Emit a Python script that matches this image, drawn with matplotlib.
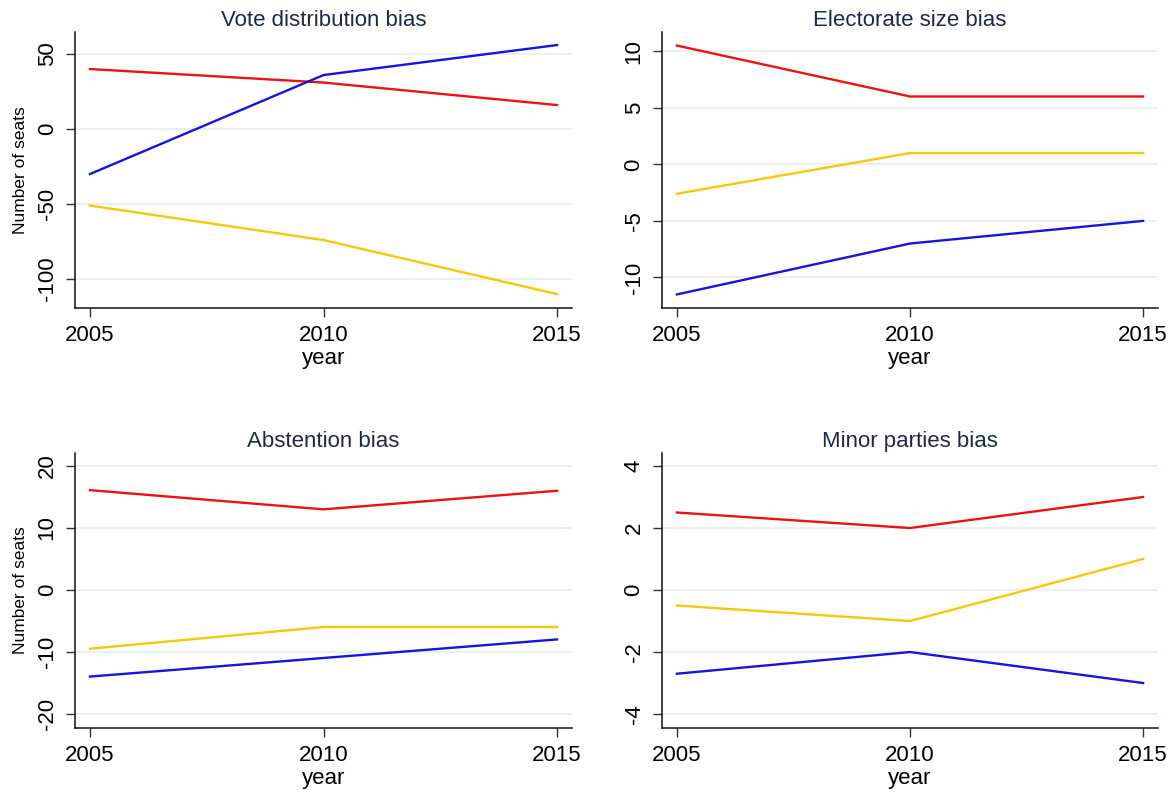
import matplotlib.pyplot as plt

plt.rcParams['font.family'] = ['Liberation Sans', 'DejaVu Sans']

years = [2005, 2010, 2015]

titles = ['Vote distribution bias', 'Electorate size bias', 'Abstention bias', 'Minor parties bias']

# seats per party series for each bias component
red_seats = [
    [40, 31, 16],
    [10.5, 6, 6],
    [16.1, 13, 16],
    [2.5, 2, 3],
]
yellow_seats = [
    [-51, -74, -110],
    [-2.6, 1, 1],
    [-9.5, -6, -6],
    [-0.5, -1, 1],
]
blue_seats = [
    [-30, 36, 56],
    [-11.5, -7, -5],
    [-14, -11, -8],
    [-2.7, -2, -3],
]

y_ticks = [
    [-100, -50, 0, 50],
    [-10, -5, 0, 5, 10],
    [-20, -10, 0, 10, 20],
    [-4, -2, 0, 2, 4],
]
y_limits = [(-119.3, 64.7), (-12.7, 11.7), (-22.3, 22.1), (-4.45, 4.42)]

RED = '#ee1111'
YELLOW = '#f5c80a'
BLUE = '#1414dd'
GRID = '#e4eef0'
TITLE = '#1c2a48'

# axes boxes in figure fractions: left, bottom, width, height
boxes = [
    [0.0641, 0.6101, 0.4248, 0.3494],
    [0.5658, 0.6101, 0.4239, 0.3494],
    [0.0641, 0.0785, 0.4248, 0.3481],
    [0.5658, 0.0785, 0.4239, 0.3481],
]

fig = plt.figure(figsize=(11.7, 7.9), dpi=100)

for i in range(4):
    ax = fig.add_axes(boxes[i])
    ax.plot(years, red_seats[i], color=RED, lw=1.7, zorder=3)
    ax.plot(years, yellow_seats[i], color=YELLOW, lw=1.7, zorder=3)
    ax.plot(years, blue_seats[i], color=BLUE, lw=1.7, zorder=3)

    ax.set_xlim(2004.68, 2015.32)
    ax.set_ylim(*y_limits[i])
    ax.set_xticks(years)
    ax.set_yticks(y_ticks[i])
    ax.set_yticklabels([str(t) for t in y_ticks[i]], rotation=90, va='center')
    ax.grid(axis='y', color=GRID, lw=1.2, zorder=0)

    for side in ['top', 'right']:
        ax.spines[side].set_visible(False)
    for side in ['left', 'bottom']:
        ax.spines[side].set_linewidth(1.1)
        ax.spines[side].set_color('#111111')

    ax.tick_params(axis='both', direction='out', length=6.5, width=1.0,
                   color='#333333', labelsize=16, pad=6)

    ax.set_title(titles[i], fontsize=16, color=TITLE, pad=4)
    ax.set_xlabel('year', fontsize=16, labelpad=1)
    if i % 2 == 0:
        ax.set_ylabel('Number of seats', fontsize=12.5, labelpad=6)

fig.savefig('out.png', dpi=100)
